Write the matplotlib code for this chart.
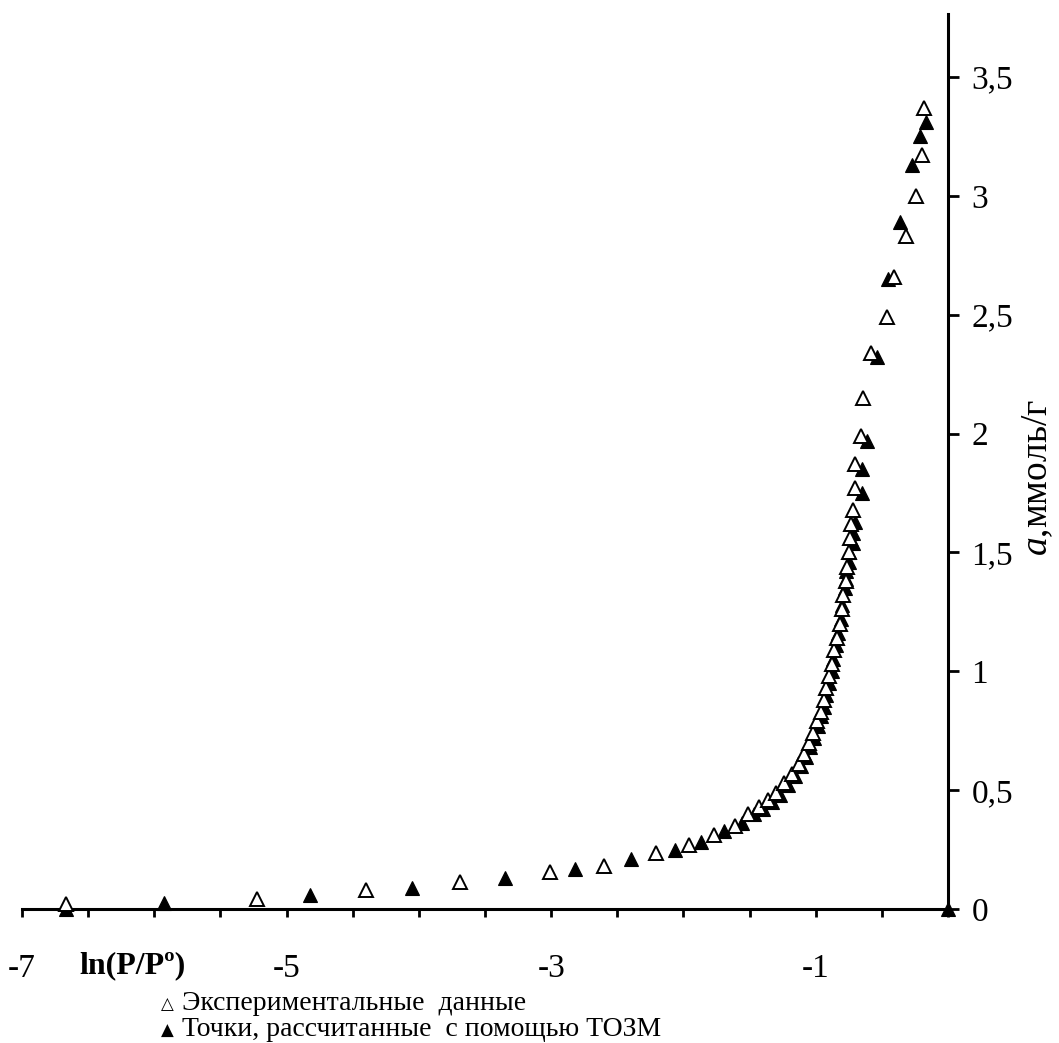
import numpy as np
import matplotlib
matplotlib.use("Agg")
import matplotlib.pyplot as plt

plt.rcParams['font.family'] = ['Liberation Serif', 'DejaVu Sans']
plt.rcParams['mathtext.fontset'] = 'custom'
plt.rcParams['mathtext.it'] = 'Liberation Serif:italic'
plt.rcParams['mathtext.rm'] = 'Liberation Serif'

# Experimental data (open triangles)
x_exp = [-6.67, -5.22, -4.40, -3.69, -3.01, -2.60, -2.21, -1.96, -1.77, -1.61, -1.51,
         -1.43, -1.36, -1.30, -1.24, -1.18, -1.13, -1.09, -1.05, -1.02, -0.99, -0.96,
         -0.94, -0.92, -0.90, -0.88, -0.86, -0.84, -0.82, -0.80, -0.79, -0.77, -0.76,
         -0.75, -0.74, -0.73, -0.72, -0.70, -0.70, -0.66, -0.64, -0.58, -0.46, -0.41,
         -0.32, -0.24, -0.20, -0.18]
y_exp = [0.02, 0.04, 0.08, 0.114, 0.156, 0.18, 0.235, 0.27, 0.31, 0.35, 0.40,
         0.43, 0.46, 0.49, 0.53, 0.57, 0.61, 0.65, 0.70, 0.74, 0.79, 0.83,
         0.88, 0.93, 0.98, 1.03, 1.09, 1.14, 1.20, 1.26, 1.32, 1.38, 1.44,
         1.50, 1.56, 1.62, 1.68, 1.77, 1.87, 1.99, 2.15, 2.34, 2.49, 2.66,
         2.83, 3.00, 3.17, 3.37]

# Points calculated with TOZM (filled triangles)
x_calc = [0.00, -6.67, -5.93, -4.82, -4.05, -3.35, -2.82, -2.40, -2.06, -1.87, -1.69,
          -1.56, -1.47, -1.40, -1.33, -1.27, -1.21, -1.16, -1.11, -1.07, -1.04, -1.01,
          -0.98, -0.96, -0.94, -0.92, -0.90, -0.88, -0.87, -0.85, -0.83, -0.81, -0.80,
          -0.78, -0.77, -0.77, -0.75, -0.75, -0.72, -0.72, -0.70, -0.65, -0.65, -0.61,
          -0.54, -0.45, -0.36, -0.27, -0.21, -0.17]
y_calc = [0.00, 0.00, 0.025, 0.06, 0.088, 0.13, 0.17, 0.21, 0.25, 0.28, 0.33,
          0.36, 0.40, 0.42, 0.45, 0.48, 0.52, 0.56, 0.60, 0.64, 0.68, 0.72,
          0.77, 0.81, 0.85, 0.90, 0.95, 1.00, 1.05, 1.11, 1.16, 1.22, 1.28,
          1.35, 1.39, 1.42, 1.46, 1.50, 1.54, 1.58, 1.63, 1.75, 1.85, 1.97,
          2.32, 2.65, 2.89, 3.13, 3.25, 3.31]

x_ticks = list(np.arange(-7.0, 0.01, 0.5))
x_label_map = {-7.0: "-7", -5.0: "-5", -3.0: "-3", -1.0: "-1"}
y_ticks = [0, 0.5, 1, 1.5, 2, 2.5, 3, 3.5]
y_tick_labels = ["0", "0,5", "1", "1,5", "2", "2,5", "3", "3,5"]

W, H = 1059, 1043
fig = plt.figure(figsize=(W / 100, H / 100), dpi=100)
x0, x1, ybot, ytop = 22, 948, 909, 14
ax = fig.add_axes([x0 / W, 1 - ybot / H, (x1 - x0) / W, (ybot - ytop) / H])
ax.set_xlim(-7, 0)
ax.set_ylim(0, 3.765)

ax.plot(x_calc, y_calc, linestyle='none', marker='^', markersize=10,
        markerfacecolor='black', markeredgecolor='black', markeredgewidth=0.8,
        clip_on=False, zorder=3)
ax.plot(x_exp, y_exp, linestyle='none', marker='^', markersize=9.5,
        markerfacecolor='white', markeredgecolor='black', markeredgewidth=1.4,
        clip_on=False, zorder=4)

for s in ['top', 'left']:
    ax.spines[s].set_visible(False)
for s in ['bottom', 'right']:
    ax.spines[s].set_linewidth(2.2)

ax.set_xticks(x_ticks)
ax.set_xticklabels([x_label_map.get(round(t, 1), "") for t in x_ticks])
ax.tick_params(axis='x', direction='out', length=6, width=2, labelsize=24, pad=26)

ax.yaxis.tick_right()
ax.set_yticks(y_ticks)
ax.set_yticklabels(y_tick_labels)
ax.tick_params(axis='y', direction='out', length=8, width=2, labelsize=24, pad=9)

fig.text(133 / W, 1 - 966 / H, "ln(P/Pº)", fontsize=23, fontweight='bold',
         ha='center', va='center')

fig.text(1038 / W, 1 - 478 / H, r"$\mathit{a}$,ммоль/г", fontsize=27,
         rotation=90, ha='center', va='center')

# legend
fig.text(167 / W, 1 - 1004 / H, "△", fontsize=12, family=['DejaVu Sans'],
         ha='center', va='center')
fig.text(182 / W, 1 - 1003 / H, "Экспериментальные  данные", fontsize=20,
         ha='left', va='center')
fig.text(167 / W, 1 - 1031 / H, "▲", fontsize=12, family=['DejaVu Sans'],
         ha='center', va='center')
fig.text(182 / W, 1 - 1030 / H, "Точки, рассчитанные  с помощью ТОЗМ", fontsize=20,
         ha='left', va='center')

fig.savefig("out.png", dpi=100)
